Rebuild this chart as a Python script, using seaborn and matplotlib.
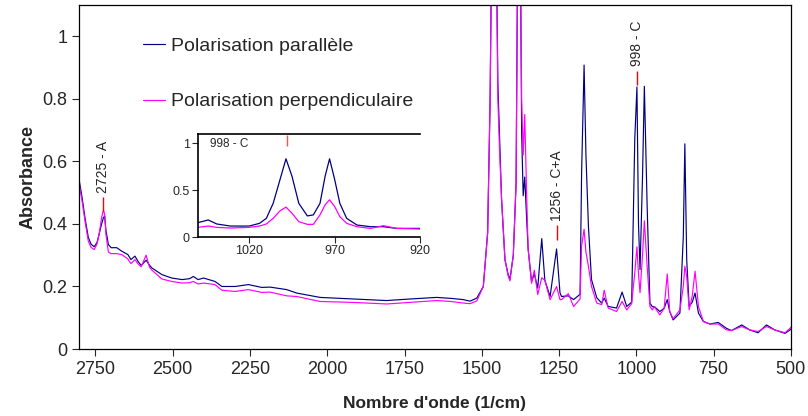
import numpy as np
import pandas as pd
import seaborn as sns
from matplotlib import pyplot as plt
from matplotlib.ticker import FuncFormatter

# main spectrum (wavenumber in 1/cm, absorbance)
wavenumber = [
    2803, 2794, 2783, 2773, 2764, 2754, 2745, 2738, 2730, 2724, 2720, 2716,
    2708, 2699, 2681, 2665, 2645, 2635, 2622, 2612, 2602, 2586, 2575, 2567,
    2535, 2503, 2470, 2445, 2433, 2418, 2400, 2363, 2341, 2298, 2255, 2212,
    2185, 2131, 2099, 2023, 1915, 1808, 1732, 1646, 1600, 1560, 1538, 1516,
    1495, 1481, 1473, 1466, 1455, 1448, 1443, 1436, 1425, 1415, 1409, 1398,
    1389, 1383, 1376, 1371, 1366, 1361, 1355, 1350, 1339, 1330, 1319, 1306,
    1296, 1279, 1258, 1247, 1242, 1220, 1203, 1182, 1177, 1169, 1163, 1155,
    1145, 1128, 1112, 1104, 1091, 1064, 1046, 1031, 1015, 1005, 998, 993,
    988, 980, 974, 965, 956, 948, 942, 924, 910, 900, 892, 881,
    859, 848, 843, 837, 829, 819, 810, 799, 783, 762, 735, 708,
    692, 659, 633, 606, 579, 552, 519, 503, 500,
]
abs_parallel = [
    0.543, 0.490, 0.415, 0.357, 0.335, 0.327, 0.340, 0.367, 0.400, 0.420, 0.425, 0.380,
    0.334, 0.324, 0.324, 0.313, 0.302, 0.286, 0.297, 0.280, 0.267, 0.284, 0.268, 0.259,
    0.238, 0.227, 0.222, 0.225, 0.232, 0.222, 0.227, 0.216, 0.200, 0.200, 0.206, 0.197,
    0.198, 0.190, 0.179, 0.165, 0.160, 0.155, 0.160, 0.165, 0.162, 0.158, 0.153, 0.163,
    0.200, 0.372, 0.800, 1.500, 1.500, 0.850, 0.700, 0.480, 0.286, 0.240, 0.222, 0.300,
    0.530, 1.400, 1.400, 0.690, 0.490, 0.550, 0.420, 0.320, 0.216, 0.240, 0.195, 0.353,
    0.220, 0.168, 0.320, 0.180, 0.168, 0.170, 0.158, 0.175, 0.565, 0.908, 0.620, 0.393,
    0.222, 0.164, 0.147, 0.163, 0.136, 0.131, 0.182, 0.136, 0.150, 0.672, 0.838, 0.400,
    0.254, 0.550, 0.840, 0.457, 0.147, 0.135, 0.136, 0.120, 0.130, 0.158, 0.120, 0.093,
    0.115, 0.360, 0.656, 0.286, 0.136, 0.150, 0.179, 0.115, 0.088, 0.080, 0.085, 0.066,
    0.059, 0.077, 0.061, 0.052, 0.077, 0.061, 0.050, 0.061, 0.065,
]
abs_perpendicular = [
    0.530, 0.478, 0.405, 0.345, 0.325, 0.318, 0.335, 0.367, 0.420, 0.445, 0.430, 0.367,
    0.310, 0.305, 0.305, 0.302, 0.288, 0.273, 0.286, 0.272, 0.263, 0.300, 0.262, 0.252,
    0.224, 0.216, 0.211, 0.212, 0.216, 0.208, 0.211, 0.206, 0.188, 0.184, 0.190, 0.181,
    0.182, 0.170, 0.168, 0.152, 0.149, 0.144, 0.149, 0.155, 0.152, 0.147, 0.145, 0.154,
    0.200, 0.372, 0.800, 1.500, 1.500, 0.800, 0.650, 0.480, 0.286, 0.235, 0.218, 0.300,
    0.530, 1.400, 1.400, 0.800, 0.620, 0.750, 0.500, 0.320, 0.210, 0.252, 0.174, 0.228,
    0.220, 0.158, 0.200, 0.158, 0.158, 0.177, 0.136, 0.160, 0.330, 0.383, 0.310, 0.265,
    0.200, 0.147, 0.142, 0.188, 0.131, 0.120, 0.152, 0.125, 0.145, 0.244, 0.327, 0.240,
    0.180, 0.300, 0.410, 0.265, 0.136, 0.125, 0.136, 0.109, 0.130, 0.240, 0.120, 0.097,
    0.125, 0.200, 0.265, 0.232, 0.125, 0.170, 0.249, 0.136, 0.088, 0.080, 0.080, 0.061,
    0.059, 0.072, 0.061, 0.056, 0.072, 0.061, 0.052, 0.066, 0.070,
]

# zoomed spectrum shown in the inset (998 - C band)
inset_wn = [1050, 1044, 1039, 1031, 1020, 1014, 1010, 1006, 1002, 998.5, 995, 991,
            986, 982.5, 978.6, 975.6, 973, 970, 967, 963, 957, 949, 941.5, 933.7, 920]
inset_parallel = [0.154, 0.183, 0.140, 0.118, 0.118, 0.147, 0.200, 0.360, 0.613, 0.835,
                  0.650, 0.360, 0.226, 0.237, 0.360, 0.650, 0.835, 0.613, 0.360, 0.200,
                  0.129, 0.111, 0.111, 0.093, 0.093]
inset_perpendicular = [0.104, 0.118, 0.104, 0.097, 0.104, 0.118, 0.140, 0.200, 0.280, 0.320,
                       0.255, 0.165, 0.136, 0.136, 0.237, 0.344, 0.398, 0.326, 0.218, 0.147,
                       0.111, 0.093, 0.122, 0.093, 0.086]

series_names = ["Polarisation parallèle", "Polarisation perpendiculaire"]
colors = ["#000080", "#FF00FF"]

peak_wn = [2727, 1258, 999]
peak_labels = ["2725 - A", "1256 - C+A", "998 - C"]


def long_frame(wn, par, perp):
    df = pd.DataFrame({"wn": wn, series_names[0]: par, series_names[1]: perp})
    return df.melt(id_vars="wn", var_name="serie", value_name="absorbance")


main_df = long_frame(wavenumber, abs_parallel, abs_perpendicular)
inset_df = long_frame(inset_wn, inset_parallel, inset_perpendicular)

sns.set_style("ticks")
plt.rcParams["font.family"] = ["Liberation Sans", "DejaVu Sans"]

fig = plt.figure(figsize=(8.08, 4.16), dpi=100)
ax = fig.add_axes([0.0978, 0.161, 0.881, 0.827])

sns.lineplot(data=main_df, x="wn", y="absorbance", hue="serie", hue_order=series_names,
             palette=colors, linewidth=0.85, estimator=None, sort=False, ax=ax)

ax.set_xlim(2803, 500)
ax.set_ylim(0, 1.1)
ax.set_xticks(np.arange(2750, 499, -250))
ax.set_yticks(np.arange(0, 1.01, 0.2))
ax.yaxis.set_major_formatter(FuncFormatter(lambda v, p: f"{v:g}"))
ax.tick_params(labelsize=13, length=5, width=0.8, direction="out")
ax.set_xlabel("Nombre d'onde (1/cm)", fontsize=12.5, fontweight="bold", labelpad=13)
ax.set_ylabel("Absorbance", fontsize=13, fontweight="bold", labelpad=4)
for sp in ax.spines.values():
    sp.set_linewidth(0.9)
    sp.set_color("black")

ax.legend(loc="upper left", bbox_to_anchor=(0.09, 0.906), frameon=False, fontsize=14,
          handlelength=1.15, handletextpad=0.3, labelspacing=1.95, borderpad=0,
          borderaxespad=0)

# red markers + rotated labels above the bands
wn_asc = wavenumber[::-1]
par_asc = abs_parallel[::-1]
for wn, lab in zip(peak_wn, peak_labels):
    base = np.interp(wn, wn_asc, par_asc) + 0.03
    ax.vlines(wn, base, base + 0.045, color="red", linewidth=1.0)
    ax.text(wn, base + 0.06, lab, rotation=90, ha="center", va="bottom", fontsize=10)

# inset
axin = fig.add_axes([0.245, 0.430, 0.275, 0.248])
sns.lineplot(data=inset_df, x="wn", y="absorbance", hue="serie", hue_order=series_names,
             palette=colors, linewidth=0.9, estimator=None, sort=False, ax=axin,
             legend=False)
axin.set_xlim(1050, 920)
axin.set_ylim(0, 1.1)
axin.set_xticks([1020, 970, 920])
axin.set_yticks([0, 0.5, 1])
axin.yaxis.set_major_formatter(FuncFormatter(lambda v, p: f"{v:g}"))
axin.tick_params(labelsize=9, length=4, width=0.8, direction="out", pad=2)
axin.set_xlabel("")
axin.set_ylabel("")
axin.spines["right"].set_visible(False)
for sp in axin.spines.values():
    sp.set_linewidth(1.2)
    sp.set_color("black")
axin.vlines(998, 0.97, 1.09, color="#FF5050", linewidth=1.0)
axin.text(0.055, 0.90, "998 - C", transform=axin.transAxes, fontsize=8.5,
          ha="left", va="center")

fig.savefig("out.png", dpi=100)
